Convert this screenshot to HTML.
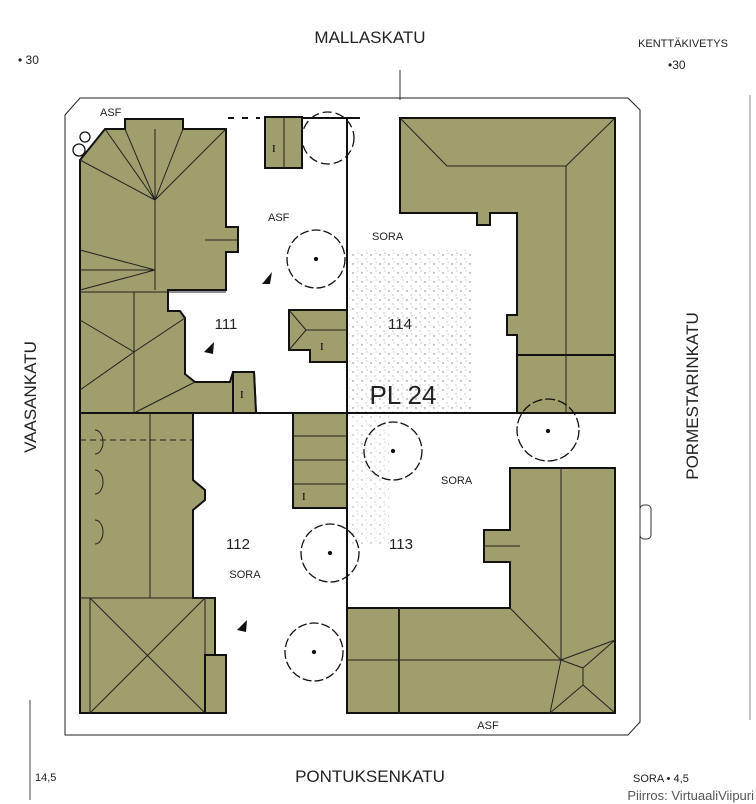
<!DOCTYPE html>
<html><head><meta charset="utf-8"><style>
body{margin:0;background:#fff;}
svg{display:block;font-family:"Liberation Sans",sans-serif;}
.b{fill:#a09e6c;stroke:#111;stroke-width:2;}
.l{stroke:#222;stroke-width:1;fill:none;}
.t{fill:none;stroke:#111;stroke-width:1.3;}
</style></head><body>
<svg width="756" height="804" viewBox="0 0 756 804">
<defs>
<pattern id="dots" width="9" height="9" patternUnits="userSpaceOnUse">
<circle cx="2" cy="3" r="0.7" fill="#777"/><circle cx="6" cy="7" r="0.6" fill="#999"/><circle cx="7" cy="1" r="0.5" fill="#888"/>
</pattern>
</defs>
<!-- lot boundary -->
<path class="l" d="M80 98 L628 98 L640 110 L640 722 L628 735 L65 735 L65 115 Z" stroke-width="1.5"/>
<line x1="30" y1="700" x2="30" y2="800" stroke="#444"/>
<line x1="750" y1="95" x2="750" y2="720" stroke="#888"/>
<line x1="400" y1="70" x2="400" y2="100" stroke="#333"/>
<!-- dotted area -->
<rect x="349" y="250" width="124" height="162" fill="url(#dots)"/>
<rect x="349" y="415" width="40" height="130" fill="url(#dots)" opacity="0.7"/>
<!-- plot lines -->
<line x1="80" y1="413" x2="615" y2="413" stroke="#111" stroke-width="2"/>
<line x1="347" y1="118" x2="347" y2="608" stroke="#111" stroke-width="2"/>
<line x1="228" y1="118" x2="260" y2="118" stroke="#111" stroke-width="2" stroke-dasharray="6 8"/>
<line x1="300" y1="118" x2="360" y2="118" stroke="#111" stroke-width="2"/>
<!-- Building 111 -->
<path class="b" d="M80 160 L105 129 L125 129 L125 119 L183 119 L183 129 L226 129 L226 227 L238 227 L238 252 L226 252 L226 290 L168 290 L168 311 L180 311 L185 318 L185 374 L195 382 L230 382 L233 372 L254 372 L256 413 L80 413 Z"/>
<g class="l"><line x1="155" y1="129" x2="155" y2="290"/><line x1="155" y1="200" x2="105" y2="129"/><line x1="155" y1="200" x2="125" y2="129"/><line x1="155" y1="200" x2="183" y2="129"/><line x1="155" y1="200" x2="226" y2="129"/><line x1="155" y1="200" x2="80" y2="160"/>
<line x1="80" y1="250" x2="155" y2="270"/><line x1="80" y1="290" x2="155" y2="270"/><line x1="80" y1="270" x2="155" y2="270"/><line x1="80" y1="292" x2="226" y2="292"/>
<line x1="134" y1="292" x2="134" y2="413"/><line x1="80" y1="320" x2="134" y2="352"/><line x1="80" y1="390" x2="134" y2="352"/><line x1="134" y1="352" x2="185" y2="318"/><line x1="134" y1="413" x2="195" y2="382"/>
<line x1="205" y1="240" x2="238" y2="240"/></g>
<path class="b" d="M233 372 L254 372 L256 413 L233 413Z"/>
<text x="240" y="398" font-size="11" font-family="Liberation Serif">I</text>
<!-- small top I building -->
<rect class="b" x="265" y="117" width="37" height="51"/>
<line class="l" x1="284" y1="117" x2="284" y2="168"/>
<text x="272" y="152" font-size="11" font-family="Liberation Serif">I</text>
<!-- middle I building -->
<path class="b" d="M289 310 L347 310 L347 362 L310 362 L310 350 L289 350 Z"/>
<path class="l" d="M289 310 L306 330 L289 350 M306 330 L347 330"/>
<text x="320" y="350" font-size="11" font-family="Liberation Serif">I</text>
<!-- Building 114 -->
<path class="b" d="M400 118 L615 118 L615 355 L517 355 L517 335 L507 335 L507 315 L517 315 L517 213 L490 213 L490 225 L477 225 L477 213 L400 213 Z"/>
<path class="l" d="M400 118 L447 166 L566 166 L566 355 M615 118 L566 166"/>
<rect class="b" x="517" y="355" width="98" height="58"/>
<line class="l" x1="566" y1="355" x2="566" y2="413"/>
<!-- Building 112 -->
<path class="b" d="M80 413 L193 413 L193 480 L205 490 L205 500 L193 510 L193 598 L215 598 L215 655 L226 655 L226 713 L80 713 Z"/>
<g class="l"><line x1="80" y1="440" x2="193" y2="440" stroke-dasharray="6 4"/><line x1="150" y1="413" x2="150" y2="598"/><line x1="80" y1="598" x2="215" y2="598"/>
<line x1="90" y1="598" x2="90" y2="713"/><line x1="90" y1="598" x2="205" y2="713"/><line x1="205" y1="598" x2="90" y2="713"/><line x1="205" y1="598" x2="205" y2="713"/></g>
<path class="l" d="M95 430 A8 12 0 0 1 95 454 M95 470 A8 12 0 0 1 95 494 M95 520 A8 12 0 0 1 95 544"/>
<rect class="b" x="205" y="655" width="21" height="58"/>
<!-- stair building -->
<rect class="b" x="293" y="413" width="54" height="95"/>
<g class="l"><line x1="293" y1="436" x2="347" y2="436"/><line x1="293" y1="460" x2="347" y2="460"/><line x1="293" y1="484" x2="347" y2="484"/></g>
<text x="302" y="500" font-size="11" font-family="Liberation Serif">I</text>
<!-- Building 113 -->
<path class="b" d="M510 468 L615 468 L615 713 L347 713 L347 608 L510 608 L510 562 L484 562 L484 530 L510 530 Z"/>
<g class="l"><line x1="561" y1="468" x2="561" y2="660"/><line x1="347" y1="660" x2="561" y2="660"/><line x1="399" y1="608" x2="399" y2="713" stroke-width="2"/><line x1="510" y1="608" x2="561" y2="660"/><line x1="561" y1="660" x2="615" y2="640"/><line x1="561" y1="660" x2="550" y2="713"/><path d="M561 660 L583 668 L583 685 L615 713 M583 685 L550 713 M583 668 L615 640"/><line x1="484" y1="546" x2="520" y2="546"/></g>
<!-- trees -->
<g class="t">
<circle cx="316" cy="259" r="29" stroke-dasharray="9 3"/><circle cx="316" cy="259" r="1.5" fill="#111"/>
<circle cx="328" cy="138" r="26" stroke-dasharray="9 4"/>
<circle cx="393" cy="451" r="29" stroke-dasharray="9 3"/><circle cx="393" cy="451" r="1.5" fill="#111"/>
<circle cx="548" cy="430" r="31" stroke-dasharray="10 3"/><circle cx="548" cy="431" r="1.5" fill="#111"/>
<circle cx="330" cy="553" r="29" stroke-dasharray="9 3"/><circle cx="330" cy="553" r="1.5" fill="#111"/>
<circle cx="314" cy="652" r="29" stroke-dasharray="9 3"/><circle cx="314" cy="652" r="1.5" fill="#111"/>
</g>
<circle cx="85" cy="137" r="5" class="t"/><circle cx="79" cy="150" r="6" class="t"/>
<!-- arrows -->
<path d="M262 284 L272 272 L270 284 Z" fill="#111"/><path d="M204 352 L214 342 L213 354 Z" fill="#111"/><path d="M237 630 L247 620 L246 632 Z" fill="#111"/>
<!-- car -->
<rect x="640" y="505" width="11" height="34" rx="4" fill="none" stroke="#333"/>
<!-- labels -->
<g fill="#222">
<text x="370" y="43" font-size="17" text-anchor="middle">MALLASKATU</text>
<text x="683" y="47" font-size="11" text-anchor="middle">KENTTÄKIVETYS</text>
<text x="18" y="64" font-size="12">• 30</text>
<text x="668" y="69" font-size="12">•30</text>
<text x="36" y="397" font-size="17" text-anchor="middle" transform="rotate(-90 36 397)">VAASANKATU</text>
<text x="698" y="396" font-size="17" text-anchor="middle" transform="rotate(-90 698 396)">PORMESTARINKATU</text>
<text x="370" y="782" font-size="17" text-anchor="middle">PONTUKSENKATU</text>
<text x="35" y="781" font-size="11">14,5</text>
<text x="633" y="782" font-size="11">SORA  • 4,5</text>
<text x="100" y="116" font-size="11">ASF</text>
<text x="268" y="221" font-size="11">ASF</text>
<text x="372" y="240" font-size="11">SORA</text>
<text x="226" y="329" font-size="15" text-anchor="middle">111</text>
<text x="400" y="329" font-size="15" text-anchor="middle">114</text>
<text x="403" y="404" font-size="26" text-anchor="middle">PL 24</text>
<text x="441" y="484" font-size="11">SORA</text>
<text x="238" y="549" font-size="15" text-anchor="middle">112</text>
<text x="245" y="578" font-size="11" text-anchor="middle">SORA</text>
<text x="401" y="549" font-size="15" text-anchor="middle">113</text>
<text x="488" y="729" font-size="11" text-anchor="middle">ASF</text>
<text x="754" y="800" font-size="13" text-anchor="end" fill="#555">Piirros: VirtuaaliViipuri</text>
</g>
</svg>
</body></html>
